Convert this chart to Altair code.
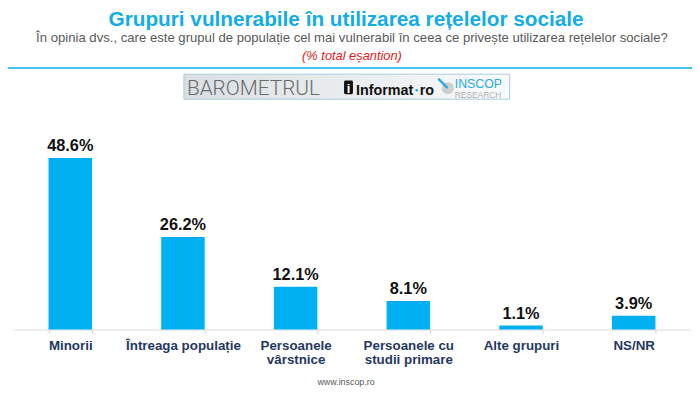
import altair as alt
import pandas as pd

# ---- data ----
categories = ["Minorii", "Întreaga populație", "Persoanele\nvârstnice",
              "Persoanele cu\nstudii primare", "Alte grupuri", "NS/NR"]
values = [48.6, 26.2, 12.1, 8.1, 1.1, 3.9]

title_text = "Grupuri vulnerabile în utilizarea rețelelor sociale"
subtitle_text = ("În opinia dvs., care este grupul de populație cel mai vulnerabil "
                 "în ceea ce privește utilizarea rețelelor sociale?")
note_text = "(% total eșantion)"
footer_text = "www.inscop.ro"

df = pd.DataFrame({"cat": categories, "val": values})
one = pd.DataFrame({"a": [0]})

FONT = "Liberation Sans, Arial, sans-serif"
BLUE = "#00B0F0"

x = alt.X(
    "cat:N", sort=categories, title=None,
    scale=alt.Scale(paddingInner=0.614, paddingOuter=0.307),
    axis=alt.Axis(
        labelAngle=0, labelExpr="split(datum.label, '\\n')",
        labelFont=FONT, labelFontSize=13.5, labelFontWeight="bold",
        labelColor="#1f3864", labelPadding=5, labelLineHeight=14.5,
        domainColor="#d9d9d9", domainWidth=1,
        tickColor="#d9d9d9", tickSize=4, tickBand="extent", grid=False,
    ),
)
y = alt.Y("val:Q", scale=alt.Scale(domain=[0, 53.8], nice=False), axis=None)

bars = alt.Chart(df).mark_bar(color=BLUE).encode(x=x, y=y)
labels = alt.Chart(df).transform_calculate(
    t="format(datum.val, '.1f') + '%'"
).mark_text(
    font=FONT, fontSize=16.5, fontWeight="bold", color="#111111",
    baseline="alphabetic", dy=-7,
).encode(x=x, y=y, text="t:N")


def txt(text, px, py, **kw):
    return alt.Chart(one).mark_text(text=text, font=FONT, baseline="alphabetic", **kw).encode(
        x=alt.value(px), y=alt.value(py))


title = txt(title_text, 336, -115.5, fontSize=21, fontWeight="bold", color="#12ACE6", align="center")
subtitle = txt(subtitle_text, 342, -99, fontSize=13.3, color="#595959", align="center")
note = txt(note_text, 342, -80.5, fontSize=13, fontStyle="italic", color="#e31a1c", align="center")
footer = txt(footer_text, 336, 248, fontSize=9, color="#595959", align="center")

line = alt.Chart(one).mark_rule(color=BLUE, strokeWidth=1.5).encode(
    x=alt.value(-6), x2=alt.value(686), y=alt.value(-72.5))

box = alt.Chart(one).mark_rect(
    fill=alt.Gradient(
        gradient="linear",
        stops=[alt.GradientStop(color="#d9dfe3", offset=0),
               alt.GradientStop(color="#f9fafb", offset=1)],
        x1=0, x2=1, y1=0, y2=0),
    stroke="#a9cbe0", strokeWidth=1,
).encode(x=alt.value(172), x2=alt.value(501.5), y=alt.value(-66.3), y2=alt.value(-41))

baro = alt.Chart(one).mark_text(
    text="BAROMETRUL", font="Roboto", fontWeight=300, fontSize=21,
    color="#6b6b6b", baseline="alphabetic", align="left",
).encode(x=alt.value(175), y=alt.value(-45))

icon = alt.Chart(one).mark_rect(color="#111111", cornerRadius=1.5).encode(
    x=alt.value(334), x2=alt.value(343), y=alt.value(-60), y2=alt.value(-46))
icon_i = txt("i", 338.5, -47.5, fontSize=13, fontWeight="bold", color="#ffffff", align="center")
informat = txt("Informat", 346, -45.7, fontSize=14.5, fontWeight="bold", color="#111111", align="left")
dot = alt.Chart(one).mark_point(filled=True, size=7, color="#29abe2", opacity=1).encode(
    x=alt.value(407.5), y=alt.value(-50))
ro = txt("ro", 410.5, -45.7, fontSize=14.5, fontWeight="bold", color="#111111", align="left")

circle = alt.Chart(one).mark_point(filled=True, size=150, color="#cfcfcf", opacity=1).encode(
    x=alt.value(439), y=alt.value(-52))
slash = alt.Chart(one).mark_rule(color="#29abe2", strokeWidth=2.5, strokeCap="round").encode(
    x=alt.value(430), y=alt.value(-61), x2=alt.value(438), y2=alt.value(-53))
inscop = txt("INSCOP", 446, -52.5, fontSize=12.5, color="#29abe2", align="left")
research = txt("RESEARCH", 446, -42.5, fontSize=8.5, color="#b0b0b0", align="left")

chart = alt.layer(
    bars, labels, title, subtitle, note, line, box, baro, icon, icon_i,
    informat, dot, ro, circle, slash, inscop, research, footer,
).properties(
    width=684, height=192,
    autosize=alt.AutoSizeParams(type="none"),
    padding={"left": 6, "top": 131, "right": 2, "bottom": 59},
).configure_view(stroke=None)

chart.save("out.html", embed_options={"renderer": "svg", "actions": False})
